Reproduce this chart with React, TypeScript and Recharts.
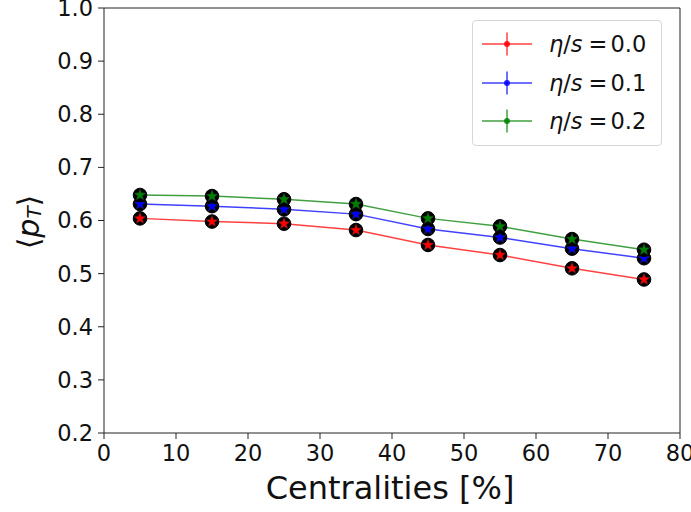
import React from "react";
import { LineChart, Line, XAxis, YAxis, ReferenceLine } from "recharts";

const centralities = [5, 15, 25, 35, 45, 55, 65, 75];
const eta00 = [0.604, 0.598, 0.594, 0.582, 0.554, 0.535, 0.51, 0.489];
const eta01 = [0.631, 0.627, 0.621, 0.612, 0.584, 0.568, 0.547, 0.529];
const eta02 = [0.648, 0.646, 0.64, 0.631, 0.604, 0.589, 0.565, 0.545];
const xTicks = [0, 10, 20, 30, 40, 50, 60, 70, 80];
const yTicks = [0.2, 0.3, 0.4, 0.5, 0.6, 0.7, 0.8, 0.9, 1.0];
const seriesNames = ["0.0", "0.1", "0.2"];
const seriesColors = ["#ff0000", "#0000ff", "#008000"];

const data = centralities.map((c, i) => ({ c, a: eta00[i], b: eta01[i], d: eta02[i] }));

const FONT = "DejaVu Sans, sans-serif";

function starPoints(cx: number, cy: number, ro: number, ri: number) {
  const pts: string[] = [];
  for (let k = 0; k < 10; k++) {
    const r = k % 2 === 0 ? ro : ri;
    const ang = -Math.PI / 2 + (k * Math.PI) / 5;
    pts.push(`${cx + r * Math.cos(ang)},${cy + r * Math.sin(ang)}`);
  }
  return pts.join(" ");
}

const makeDot = (color: string) => (props: any) => {
  const { cx, cy, index } = props;
  if (cx == null || cy == null) return <g key={index} />;
  return (
    <g key={index}>
      <circle cx={cx} cy={cy} r={6.8} fill="#000" stroke="#000" strokeWidth={1} />
      <polygon points={starPoints(cx, cy, 6.2, 2.7)} fill={color} stroke="#222" strokeWidth={0.5} />
    </g>
  );
};

const LegendBox = () => (
  <div
    style={{
      position: "absolute",
      left: 472,
      top: 20,
      border: "1px solid #d6d6d6",
      borderRadius: 4,
      background: "#fff",
      width: 190,
      height: 126,
      boxSizing: "border-box",
      paddingTop: 4,
      fontFamily: FONT,
    }}
  >
    {seriesNames.map((n, i) => (
      <div key={n} style={{ display: "flex", alignItems: "center", height: 38.5 }}>
        <svg width={70} height={30} style={{ marginLeft: 6, flex: "none" }}>
          <line x1={3} y1={15} x2={53} y2={15} stroke={seriesColors[i]} strokeOpacity={0.75} strokeWidth={1.5} />
          <line x1={28} y1={3.5} x2={28} y2={26.5} stroke={seriesColors[i]} strokeOpacity={0.75} strokeWidth={1.5} />
          <circle cx={28} cy={15} r={3} fill={seriesColors[i]} fillOpacity={0.85} />
        </svg>
        <span style={{ fontSize: 22.5, color: "#111", whiteSpace: "nowrap", marginLeft: 0 }}>
          <i>η</i>/<i>s</i>
          <span style={{ margin: "0 3px 0 6px" }}>=</span>
          {n}
        </span>
      </div>
    ))}
  </div>
);

const YLabel = () => {
  const cx = 28;
  const cy = 222;
  return (
    <text
      x={cx}
      y={cy}
      transform={`rotate(-90, ${cx}, ${cy})`}
      textAnchor="middle"
      dominantBaseline="central"
      fontFamily={FONT}
      fontSize={30}
      fill="#111"
    >
      <tspan>⟨</tspan>
      <tspan fontStyle="italic">p</tspan>
      <tspan fontStyle="italic" fontSize={20} dy={6}>T</tspan>
      <tspan dy={-6}>⟩</tspan>
    </text>
  );
};

const XLabel = () => (
  <text x={390} y={499} textAnchor="middle" fontFamily={FONT} fontSize={32} fill="#111">
    Centralities [%]
  </text>
);

export default function App() {
  return (
    <div style={{ position: "absolute", left: 0, top: 0, width: 691, height: 512, background: "#fff" }}>
      <LineChart
        width={691}
        height={512}
        data={data}
        margin={{ top: 8, right: 11, bottom: 0, left: 0 }}
        style={{ fontFamily: FONT }}
      >
        <XAxis
          dataKey="c"
          type="number"
          domain={[0, 80]}
          ticks={xTicks}
          height={79}
          tickSize={6}
          tickMargin={6}
          stroke="#222"
          tick={{ fill: "#111", fontSize: 22.5, fontFamily: FONT }}
          label={<XLabel />}
          interval={0}
        />
        <YAxis
          type="number"
          domain={[0.2, 1.0]}
          ticks={yTicks}
          width={104}
          tickSize={6}
          tickMargin={5}
          stroke="#222"
          tick={{ fill: "#111", fontSize: 22.5, fontFamily: FONT }}
          tickFormatter={(v: number) => v.toFixed(1)}
          label={<YLabel />}
          interval={0}
          allowDataOverflow
        />
        <ReferenceLine y={1.0} stroke="#222" strokeWidth={1} />
        <ReferenceLine x={80} stroke="#222" strokeWidth={1} />
        <Line dataKey="a" stroke={seriesColors[0]} strokeOpacity={0.75} strokeWidth={1.5} dot={makeDot(seriesColors[0])} isAnimationActive={false} />
        <Line dataKey="b" stroke={seriesColors[1]} strokeOpacity={0.75} strokeWidth={1.5} dot={makeDot(seriesColors[1])} isAnimationActive={false} />
        <Line dataKey="d" stroke={seriesColors[2]} strokeOpacity={0.75} strokeWidth={1.5} dot={makeDot(seriesColors[2])} isAnimationActive={false} />
      </LineChart>
      <LegendBox />
    </div>
  );
}
